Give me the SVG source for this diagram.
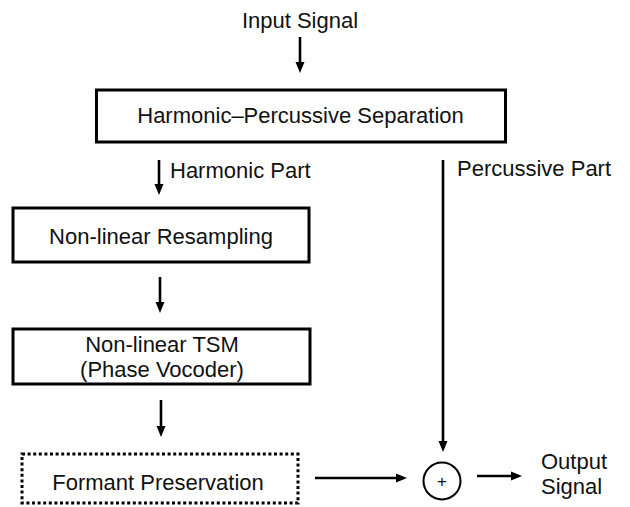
<svg xmlns="http://www.w3.org/2000/svg" width="630" height="507" viewBox="0 0 630 507">
  <style>
    .box { fill: #fff; stroke: #000; stroke-width: 3; }
    .dotted { fill: #fff; stroke: #000; stroke-width: 3; stroke-dasharray: 3 2.6; }
    .lbl { font-family: "Liberation Sans", Arial, sans-serif; font-size: 22px; fill: #111; }
    .mid { text-anchor: middle; }
    .conn { stroke: #000; stroke-width: 2.6; fill: none; }
  </style>
  <defs>
    <marker id="ah" markerUnits="userSpaceOnUse" markerWidth="11" markerHeight="10" refX="1" refY="5" orient="auto">
      <path d="M0,0.5 L11,5 L0,9.5 z" fill="#000"/>
    </marker>
  </defs>
  <rect width="630" height="507" fill="#fff"/>

  <g id="input-label">
    <text class="lbl mid" x="300" y="28">Input Signal</text>
  </g>

  <g id="hps">
    <rect class="box" x="96.5" y="90" width="409" height="52"/>
    <text class="lbl mid" x="300.5" y="123">Harmonic–Percussive Separation</text>
  </g>

  <g id="resampling">
    <rect class="box" x="13" y="208" width="296" height="54"/>
    <text class="lbl mid" x="161" y="244">Non-linear Resampling</text>
  </g>

  <g id="tsm">
    <rect class="box" x="13" y="329" width="297" height="55"/>
    <text class="lbl mid" x="162" y="352">Non-linear TSM</text>
    <text class="lbl mid" x="162" y="377">(Phase Vocoder)</text>
  </g>

  <g id="formant">
    <rect class="dotted" x="22" y="454" width="276" height="49"/>
    <text class="lbl mid" x="158" y="490">Formant Preservation</text>
  </g>

  <g id="sum">
    <circle cx="442" cy="481" r="18.5" fill="#fff" stroke="#000" stroke-width="2"/>
    <text x="442" y="487" text-anchor="middle" font-family="Liberation Sans, Arial, sans-serif" font-size="17" fill="#111">+</text>
  </g>

  <g id="output-label">
    <text class="lbl" x="541" y="469">Output</text>
    <text class="lbl" x="541" y="494">Signal</text>
  </g>

  <g id="connectors">
    <line class="conn" x1="300" y1="37" x2="300" y2="63" marker-end="url(#ah)"/>
    <line class="conn" x1="159" y1="160" x2="159" y2="185" marker-end="url(#ah)"/>
    <text class="lbl" x="170" y="178">Harmonic Part</text>
    <line class="conn" x1="443" y1="160" x2="443" y2="442" marker-end="url(#ah)"/>
    <text class="lbl" x="457" y="176">Percussive Part</text>
    <line class="conn" x1="160" y1="277" x2="160" y2="303" marker-end="url(#ah)"/>
    <line class="conn" x1="161" y1="400" x2="161" y2="427" marker-end="url(#ah)"/>
    <line class="conn" x1="315" y1="478" x2="397" y2="478" marker-end="url(#ah)"/>
    <line class="conn" x1="477" y1="476" x2="512" y2="476" marker-end="url(#ah)"/>
  </g>
</svg>
